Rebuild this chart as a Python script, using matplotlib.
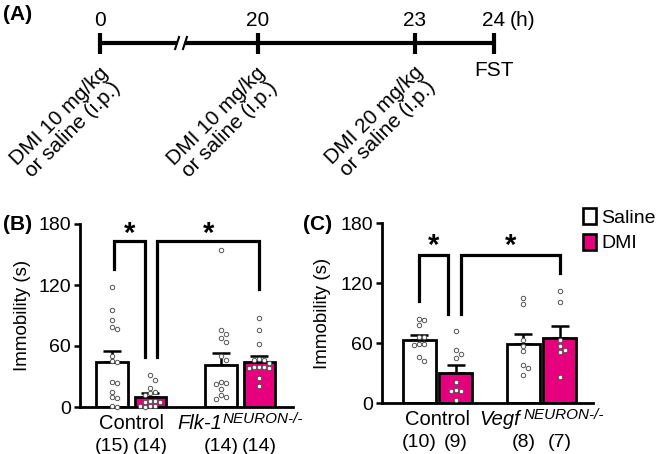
import numpy as np
import matplotlib
matplotlib.use("Agg")
import matplotlib.pyplot as plt
from matplotlib.patches import Patch

plt.rcParams['font.family'] = ['Liberation Sans', 'DejaVu Sans']

MAG = '#E6007E'

# (A) timeline
tl_hours = ['0', '20', '23', '24']
tl_pos = [0, 1, 2, 2.5]
tl_notes = ['DMI 10 mg/kg\nor saline (i.p.)', 'DMI 10 mg/kg\nor saline (i.p.)',
            'DMI 20 mg/kg\nor saline (i.p.)']

# (B) Flk-1 neuron KO
b_mean = [44, 10, 41, 44]
b_sem = [11, 4, 12, 6]
b_n = [15, 14, 14, 14]
b_ctrl_sal = [118, 95, 86, 79, 77, 50, 45, 44, 25, 24, 15, 10, 9, 1, 0]
b_ctrl_dmi = [31, 27, 19, 15, 14, 12, 6, 6, 5, 5, 1, 1, 1, 0]
b_ko_sal = [154, 76, 72, 68, 64, 50, 46, 25, 24, 23, 18, 12, 10, 8]
b_ko_dmi = [88, 76, 62, 47, 46, 46, 43, 39, 39, 39, 38, 38, 29, 21]

# (C) Vegf neuron KO
c_mean = [63, 30, 59, 65]
c_sem = [5, 8.5, 10.5, 12.5]
c_n = [10, 9, 8, 7]
c_ctrl_sal = [84, 83, 78, 66, 66, 59, 59, 58, 46, 42]
c_ctrl_dmi = [72, 53, 49, 45, 21, 13, 12, 12, 3]
c_ko_sal = [105, 99, 63, 57, 52, 38, 35, 28]
c_ko_dmi = [112, 101, 63, 57, 53, 51, 26]

# brackets: (top, left foot, right foot)
b_brackets = [(163, 136, 49), (163, 49, 116)]
c_brackets = [(148, 102, 89), (148, 89, 130)]

fig = plt.figure(figsize=(6.61, 4.54), dpi=100)
W, H = 661, 454


def px_axes(left, top, right, bottom):
    return fig.add_axes([left / W, 1 - bottom / H, (right - left) / W, (bottom - top) / H])


# ---------------- panel A ----------------
axa = px_axes(0, 0, W, 190)
unit = 157.5
axa.set_xlim(-100 / unit, (W - 100) / unit)
axa.set_ylim(190, 0)
axa.axis('off')
lw = 3.0
ly = 43
axa.plot([tl_pos[0], 0.49], [ly, ly], color='k', lw=lw, solid_capstyle='butt')
axa.plot([0.54, tl_pos[-1]], [ly, ly], color='k', lw=lw, solid_capstyle='butt')
for dx in (0.477, 0.527):
    axa.plot([dx, dx + 0.025], [ly + 6, ly - 6], color='k', lw=1.5)
for p, h in zip(tl_pos, tl_hours):
    axa.plot([p, p], [ly - 10, ly + 11], color='k', lw=lw, solid_capstyle='butt')
    t = axa.text(p, 21, h, ha='center', va='center', fontsize=15)
    if h == '24':
        axa.annotate('(h)', xy=(1, 0), xycoords=t, xytext=(3, 0), textcoords='offset points',
                     ha='left', va='bottom', fontsize=15)
axa.text(tl_pos[-1], 70, 'FST', ha='center', va='center', fontsize=15)
for p, note in zip(tl_pos, tl_notes):
    axa.annotate(note, xy=(p, 63), xytext=(-1, 0), textcoords='offset points',
                 rotation=45, rotation_mode='anchor', ha='right', va='top',
                 fontsize=15, multialignment='center', linespacing=1.0)
fig.text(3 / W, 1 - 15 / H, '(A)', fontsize=15, fontweight='bold', va='center')


def swarm(ax, xc, vals, step=5.0):
    tr = ax.transData
    placed, xs = [], []
    for v in vals:
        px, py = tr.transform((xc, v))
        for k in [0, 1, -1, 2, -2, 3, -3, 4, -4]:
            cx = px + k * step
            if all((cx - qx) ** 2 + (py - qy) ** 2 >= step ** 2 * 0.95 for qx, qy in placed):
                break
        placed.append((cx, py))
        xs.append(tr.inverted().transform((cx, py))[0])
    return xs


def sup_label(ax, xc, main, sup, gap):
    t = ax.annotate(main, xy=(xc, 0), xycoords=('data', 'axes fraction'), xytext=(0, -12),
                    textcoords='offset points', ha='left', va='center', fontsize=14.5,
                    fontstyle='italic')
    s = ax.annotate(sup, xy=(1, 1), xycoords=t, xytext=(gap, 1.5), textcoords='offset points',
                    ha='left', va='top', fontsize=11, fontstyle='italic')
    return t, s


def panel(ax, means, sems, ns, dots, gap, width, brackets, legs, star_dy, ko_main, ko_sup, sup_gap):
    xs = [-0.5, 0.5, gap - 0.5, gap + 0.5]
    colors = ['white', MAG, 'white', MAG]
    ax.set_ylim(0, 180)
    ax.errorbar(xs, means, yerr=[np.zeros(4), sems], fmt='none', ecolor='k',
                elinewidth=1.8, capsize=6.5, capthick=1.8, zorder=1)
    ax.bar(xs, means, width=width, color=colors, edgecolor='k', linewidth=2.0, zorder=2)
    for x, vals in zip(xs, dots):
        ax.plot(swarm(ax, x, vals), vals, 'o', ms=3.2, mfc='white', mec='#555555', mew=0.7,
                zorder=3, clip_on=False)
    # significance brackets
    (top1, l1, r1), (top2, l2, r2) = brackets
    x1a, x1b = xs[0] + legs[0], xs[1] + legs[1]
    x2a, x2b = xs[1] + legs[2], xs[3] + legs[3]
    ax.plot([x1a, x1a, x1b, x1b], [l1, top1, top1, r1], color='k', lw=2.3, zorder=4,
            clip_on=False, solid_joinstyle='miter')
    ax.plot([x2a, x2a, x2b, x2b], [l2, top2, top2, r2], color='k', lw=2.3, zorder=4,
            clip_on=False, solid_joinstyle='miter')
    for xa, xb, top in ((x1a, x1b, top1), (x2a, x2b, top2)):
        ax.text((xa + xb) / 2, top + star_dy, '*', ha='center', va='center', fontsize=21,
                fontweight='bold')
    for s in ('top', 'right'):
        ax.spines[s].set_visible(False)
    for s in ('left', 'bottom'):
        ax.spines[s].set_linewidth(2.0)
    ax.spines['left'].set_bounds(0, 180)
    ax.set_yticks([0, 60, 120, 180])
    ax.set_xticks([])
    ax.tick_params(axis='y', length=4.5, width=1.8, labelsize=14, pad=2)
    ax.set_ylabel('Immobility (s)', fontsize=13.5)
    # group labels
    ax.annotate('Control', xy=((xs[0] + xs[1]) / 2, 0), xycoords=('data', 'axes fraction'),
                xytext=(0, -12), textcoords='offset points', ha='center', va='center',
                fontsize=14.5)
    t, s = sup_label(ax, (xs[2] + xs[3]) / 2, ko_main, ko_sup, sup_gap)
    for x, n in zip(xs, ns):
        ax.annotate('(%d)' % n, xy=(x, 0), xycoords=('data', 'axes fraction'),
                    xytext=(0, -28.5), textcoords='offset points', ha='center', va='center',
                    fontsize=14)
    return t, s


axb = px_axes(80, 224, 293, 407)
axb.set_xlim(-1.33, 4.2)
tb = panel(axb, b_mean, b_sem, b_n, [b_ctrl_sal, b_ctrl_dmi, b_ko_sal, b_ko_dmi], 2.83, 0.83,
           b_brackets, [0.05, -0.15, 0.16, 0.0], 7, 'Flk-1', 'NEURON-/-', 0.5)
axb.yaxis.labelpad = 5

axc = px_axes(382, 223, 593, 403)
axc.set_xlim(-1.53, 4.29)
tc = panel(axc, c_mean, c_sem, c_n, [c_ctrl_sal, c_ctrl_dmi, c_ko_sal, c_ko_dmi], 2.87, 0.9,
           c_brackets, [0.0, -0.21, 0.14, 0.0], 9, 'Vegf', 'NEURON-/-', 3)
axc.yaxis.labelpad = 7

fig.text(3 / W, 1 - 225 / H, '(B)', fontsize=15, fontweight='bold', va='center')
fig.text(303 / W, 1 - 225 / H, '(C)', fontsize=15, fontweight='bold', va='center')

axc.legend(handles=[Patch(facecolor='white', edgecolor='k', linewidth=1.9, label='Saline'),
                    Patch(facecolor=MAG, edgecolor='k', linewidth=1.9, label='DMI')],
           loc='upper left', bbox_to_anchor=(583 / W, 1 - 208 / H), bbox_transform=fig.transFigure,
           frameon=False, fontsize=14, handlelength=0.65, handleheight=0.9, handletextpad=0.3,
           labelspacing=0.35, borderpad=0, borderaxespad=0)

# centre the italic KO labels (main + superscript) on their groups
fig.canvas.draw()
r = fig.canvas.get_renderer()
for t, s in (tb, tc):
    w = s.get_window_extent(r).x1 - t.get_window_extent(r).x0
    t.xyann = (-w / 2 * 72 / fig.dpi, t.xyann[1])

fig.savefig('out.png', dpi=100)
